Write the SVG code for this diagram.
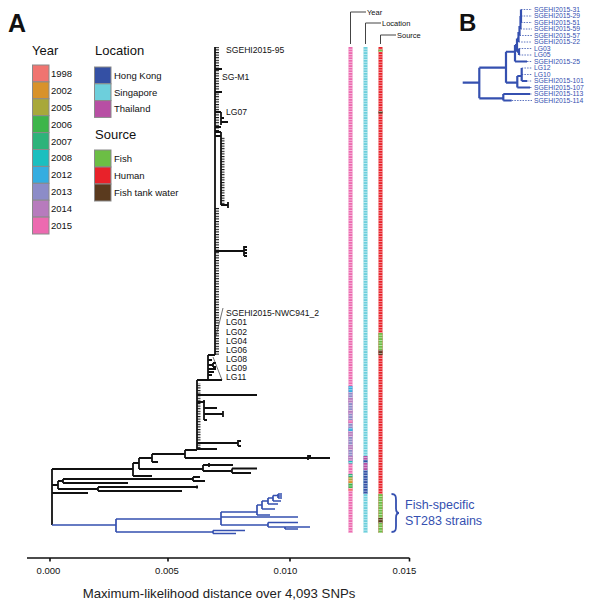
<svg xmlns="http://www.w3.org/2000/svg" width="600" height="607" viewBox="0 0 600 607">
<style>
text{font-family:"Liberation Sans",Arial,sans-serif;fill:#111}
.ttl{font-size:13px}
.lg{font-size:9.5px}
.box{stroke:#8a8a8a;stroke-width:1}
.tr{fill:none;stroke:#111;stroke-width:1.8}
.bt{fill:none;stroke:#3550B0;stroke-width:1.7}
.bb{fill:none;stroke:#3550B0;stroke-width:2.2}
.ds{fill:none;stroke:#3550B0;stroke-width:0.8;stroke-dasharray:1.5 1.2}
.lab{font-size:8.6px}
.bl{font-size:6.8px;fill:#3550B0}
.hd{fill:none;stroke:#444;stroke-width:1}
.hdt{font-size:7.5px}
.tk{font-size:9.5px;text-anchor:middle}
</style>
<defs>
<pattern id="comb" patternUnits="userSpaceOnUse" width="10" height="2.6"><rect x="0" y="0" width="10" height="1.1" fill="#111"/></pattern>
<pattern id="rows" patternUnits="userSpaceOnUse" x="0" y="47" width="10" height="2.6"><rect x="0" y="2" width="10" height="0.6" fill="#fff" opacity="0.85"/></pattern>
</defs>
<rect width="600" height="607" fill="#fff"/>

<text x="8" y="32" style="font-size:25px;font-weight:bold">A</text>
<text x="459" y="31" style="font-size:24px;font-weight:bold">B</text>

<g id="legend-year">
<text class="ttl" x="32" y="55">Year</text>
<rect class="box" x="32.5" y="65" width="16.5" height="16.9" fill="#F07470"/>
<rect class="box" x="32.5" y="81.9" width="16.5" height="16.9" fill="#D8922A"/>
<rect class="box" x="32.5" y="98.8" width="16.5" height="16.9" fill="#A8A83A"/>
<rect class="box" x="32.5" y="115.7" width="16.5" height="16.9" fill="#3DB54A"/>
<rect class="box" x="32.5" y="132.6" width="16.5" height="16.9" fill="#2DB37A"/>
<rect class="box" x="32.5" y="149.5" width="16.5" height="16.9" fill="#1BBFBF"/>
<rect class="box" x="32.5" y="166.4" width="16.5" height="16.9" fill="#35ADE0"/>
<rect class="box" x="32.5" y="183.3" width="16.5" height="16.9" fill="#8C8CC8"/>
<rect class="box" x="32.5" y="200.2" width="16.5" height="16.9" fill="#B77BBD"/>
<rect class="box" x="32.5" y="217.1" width="16.5" height="16.9" fill="#EC6AB0"/>
<text class="lg" x="51" y="76.9">1998</text>
<text class="lg" x="51" y="93.8">2002</text>
<text class="lg" x="51" y="110.7">2005</text>
<text class="lg" x="51" y="127.6">2006</text>
<text class="lg" x="51" y="144.5">2007</text>
<text class="lg" x="51" y="161.4">2008</text>
<text class="lg" x="51" y="178.3">2012</text>
<text class="lg" x="51" y="195.2">2013</text>
<text class="lg" x="51" y="212.1">2014</text>
<text class="lg" x="51" y="229">2015</text>
</g>

<g id="legend-location">
<text class="ttl" x="95" y="55">Location</text>
<rect class="box" x="94.5" y="67" width="16.5" height="16.8" fill="#3450A4"/>
<rect class="box" x="94.5" y="83.8" width="16.5" height="16.8" fill="#6DCFDC"/>
<rect class="box" x="94.5" y="100.6" width="16.5" height="16.8" fill="#B84FA4"/>
<text class="lg" x="114" y="78.7">Hong Kong</text>
<text class="lg" x="114" y="95.5">Singapore</text>
<text class="lg" x="114" y="112.3">Thailand</text>
</g>

<g id="legend-source">
<text class="ttl" x="95" y="139">Source</text>
<rect class="box" x="94.5" y="150" width="16.5" height="17" fill="#6CBE45"/>
<rect class="box" x="94.5" y="167" width="16.5" height="17" fill="#E8222A"/>
<rect class="box" x="94.5" y="184" width="16.5" height="17" fill="#5A3A1E"/>
<text class="lg" x="114" y="161.8">Fish</text>
<text class="lg" x="114" y="178.8">Human</text>
<text class="lg" x="114" y="195.8">Fish tank water</text>
</g>

<g id="tree-black">
<path class="tr" d="M215 47 V355 M215 69 H222 M215 92 H222 M215 112 H221 M221 112 V125 M221 122 H228 M221 118 H224 M215 127 H221 M215 132 H221 M215 136 H221 M221 132 V205 M221 205 H228 M228 202 V208 M215 251 H244 M244 246 V256 M244 247 H247 M244 250 H247 M244 253 H247 M244 256 H247 M208 355 H215 M208 355 V380 M208 360 H212 M208 365 H213 M213 363 V367 M213 363 H216 M213 367 H216 M208 369 H216 M208 372 H214 M208 375 H212 M197 380 H222 M197 380 V450 M197 395 H257 M197 402 H205 M204 400 V420 M204 408 H217 M204 414 H223 M223 411 V417 M204 420 H207 M197 443 H238 M238 440 V446 M238 441 H241 M238 446 H241 M197 449 H217 M185 450 H197 M185 450 V458 M185 458 H330 M308 455 V460 M308 456 H311 M152 454 H185 M152 454 V462 M152 462 H158 M139 458 H152 M139 458 V469 M139 469 H203 M203 465 V471 M203 465 H233 M209 463 V467 M203 471 H232 M232 468.5 V473 M232 468.5 H257 M232 473 H251 M133 463 H139 M133 463 V476 M133 476 H152 M52 469 H133 M52 469 V525 M52 485 H58 M58 481 V489 M58 481 H63 M63 479 V483 M63 479 H193 M193 477 V481 M193 477 H200 M193 481 H205 M63 483 H128 M58 489 H98 M98 487 V491 M98 487 H198 M197 485.5 V488.5 M98 491 H182 M52 493 H88"/>
<rect x="215" y="47" width="4" height="84" fill="url(#comb)"/>
<rect x="215" y="207" width="4" height="148" fill="url(#comb)"/>
<rect x="221" y="137" width="3.5" height="68" fill="url(#comb)"/>
<rect x="197" y="383" width="3.5" height="67" fill="url(#comb)"/>
</g>

<g id="tree-blue">
<path class="bt" d="M52 525 H116 M116 519 V532 M116 532 H213 M213 530.5 V533.5 M213 530.5 H245 M213 533.5 H236 M116 519 H221 M221 512 V525 M221 512 H257 M221 517 H298 M221 525 H268 M268 522.5 V527 M268 522.5 H298 M268 527 H310 M285 527 V529 M285 529 H298 M257 505 V515 M257 515 H270 M257 505 H262 M262 501 V509 M262 509 H275 M262 501 H268 M268 498 V504 M268 504 H278 M268 498 H273 M273 495.5 V501 M273 501 H281 M273 495.5 H278 M278 494 V498 M278 494 H282 M278 496 H282 M278 498 H282"/>
</g>

<g id="labels-a">
<text class="lab" x="226" y="53">SGEHI2015-95</text>
<text class="lab" x="222" y="80">SG-M1</text>
<text class="lab" x="226" y="115">LG07</text>
<text class="lab" x="226" y="315.7">SGEHI2015-NWC941_2</text>
<text class="lab" x="226" y="325.4">LG01</text>
<text class="lab" x="226" y="334.5">LG02</text>
<text class="lab" x="226" y="343.6">LG04</text>
<text class="lab" x="226" y="352.7">LG06</text>
<text class="lab" x="226" y="361.6">LG08</text>
<text class="lab" x="226" y="370.7">LG09</text>
<text class="lab" x="226" y="379.8">LG11</text>
<path d="M223 308 L216 336 M213 357 L222 380" fill="none" stroke="#333" stroke-width="0.7"/>
</g>

<g id="bars">
<rect x="348.5" y="47" width="4" height="486" fill="#EC6AB0"/>
<rect x="348.5" y="386" width="4" height="6" fill="#35ADE0"/>
<rect x="348.5" y="392" width="4" height="69" fill="#8C8CC8"/>
<rect x="348.5" y="398" width="4" height="5" fill="#B77BBD"/>
<rect x="348.5" y="410" width="4" height="4" fill="#B77BBD"/>
<rect x="348.5" y="420" width="4" height="3" fill="#EC6AB0"/>
<rect x="348.5" y="428" width="4" height="3" fill="#35ADE0"/>
<rect x="348.5" y="431" width="4" height="6" fill="#B77BBD"/>
<rect x="348.5" y="445" width="4" height="5" fill="#B77BBD"/>
<rect x="348.5" y="456" width="4" height="5" fill="#B77BBD"/>
<rect x="348.5" y="461" width="4" height="2.5" fill="#1BBFBF"/>
<rect x="348.5" y="474" width="4" height="3" fill="#2DB37A"/>
<rect x="348.5" y="477" width="4" height="3" fill="#A8A83A"/>
<rect x="348.5" y="480" width="4" height="3" fill="#D8922A"/>
<rect x="348.5" y="483" width="4" height="5" fill="#3DB54A"/>
<rect x="348.5" y="488" width="4" height="3" fill="#F07470"/>

<rect x="363.5" y="47" width="4" height="486" fill="#6DCFDC"/>
<rect x="363.5" y="456" width="4" height="4" fill="#B84FA4"/>
<rect x="363.5" y="460" width="4" height="3" fill="#3450A4"/>
<rect x="363.5" y="463" width="4" height="7" fill="#B84FA4"/>
<rect x="363.5" y="470" width="4" height="24" fill="#3450A4"/>

<rect x="378.5" y="47" width="4" height="486" fill="#E8222A"/>
<rect x="378.5" y="49.5" width="4" height="2.5" fill="#6CBE45"/>
<rect x="378.5" y="111" width="4" height="2.5" fill="#5A3A1E"/>
<rect x="378.5" y="333" width="4" height="17" fill="#6CBE45"/>
<rect x="378.5" y="350" width="4" height="5" fill="#5A3A1E"/>
<rect x="378.5" y="494" width="4" height="39" fill="#6CBE45"/>
<rect x="378.5" y="518" width="4" height="5" fill="#5A3A1E"/>

<rect x="348.5" y="47" width="4" height="486" fill="url(#rows)"/>
<rect x="363.5" y="47" width="4" height="486" fill="url(#rows)"/>
<rect x="378.5" y="47" width="4" height="486" fill="url(#rows)"/>

<path class="hd" d="M350.5 44 V12 H366 M365.5 44 V23 H381 M380.5 44 V35 H396"/>
<text class="hdt" x="367" y="14.7">Year</text>
<text class="hdt" x="382" y="25.7">Location</text>
<text class="hdt" x="397" y="37.7">Source</text>
</g>

<g id="brace">
<path d="M391.5 494 C395.5 494 396 496 396 500 L396 508 C396 511.5 397 513 399 513 C397 513 396 514.5 396 518 L396 526 C396 530 395.5 532 391.5 532" fill="none" stroke="#3550B0" stroke-width="1.8"/>
<text x="405" y="508.5" style="font-size:12.5px;fill:#3550B0">Fish-specific</text>
<text x="405" y="524.5" style="font-size:12.5px;fill:#3550B0">ST283 strains</text>
</g>

<g id="axis">
<path d="M27 558 H409.5 M50 558 V561.5 M168 558 V561.5 M290 558 V561.5 M409.5 558 V561.5" fill="none" stroke="#111" stroke-width="1.6"/>
<text class="tk" x="48.5" y="573.5">0.000</text>
<text class="tk" x="167" y="573.5">0.005</text>
<text class="tk" x="285.5" y="573.5">0.010</text>
<text class="tk" x="404.5" y="573.5">0.015</text>
<text x="219" y="597.5" style="font-size:13.2px;text-anchor:middle;fill:#222">Maximum-likelihood distance over 4,093 SNPs</text>
</g>

<g id="panel-b">
<path class="bb" d="M462.7 82.7 H479.3 M479.3 67.7 V98.3 M479.3 98.3 H503.3 M503.3 94 V100.5 M503.3 94 H530 M503.3 100.5 H511.7 M479.3 67.7 H506 M506 51.75 V82.7 M506 82.7 H517.3 M517.3 76 V87.5 M517.3 87.5 H530 M517.3 76 H521.7 M521.7 68 V81 M521.7 81 H527 M506 51.75 H515 M515 45 V61.5 M515 61.5 H527 M515 45 H517 M517 38.5 V51.75 M517 51.75 H519 M519 48.5 V55 M517 38.5 H518.5 M518.5 32 V42 M518.5 32 H519.5 M519.5 26 V35.5 M519.5 26 H520.5 M520.5 16 V29 M520.5 16 H521 M521 9.5 V22.5"/>
<path class="ds" d="M521 9.5 H532 M521 16 H532 M521 22.5 H532 M520.5 29 H532 M519.5 35.5 H532 M518.5 42 H532 M519 48.5 H532 M519 55 H532 M527 61.5 H532 M521.7 68 H532 M521.7 74.5 H532 M527 81 H532 M530 87.5 H532 M530 94 H532 M511.7 100.5 H532"/>
<text class="bl" x="534" y="11.8">SGEHI2015-31</text>
<text class="bl" x="534" y="18.3">SGEHI2015-29</text>
<text class="bl" x="534" y="24.8">SGEHI2015-51</text>
<text class="bl" x="534" y="31.3">SGEHI2015-59</text>
<text class="bl" x="534" y="37.8">SGEHI2015-57</text>
<text class="bl" x="534" y="44.3">SGEHI2015-22</text>
<text class="bl" x="534" y="50.8">LG03</text>
<text class="bl" x="534" y="57.3">LG05</text>
<text class="bl" x="534" y="63.8">SGEHI2015-25</text>
<text class="bl" x="534" y="70.3">LG12</text>
<text class="bl" x="534" y="76.8">LG10</text>
<text class="bl" x="534" y="83.3">SGEHI2015-101</text>
<text class="bl" x="534" y="89.8">SGEHI2015-107</text>
<text class="bl" x="534" y="96.3">SGEHI2015-113</text>
<text class="bl" x="534" y="102.8">SGEHI2015-114</text>
</g>
</svg>
